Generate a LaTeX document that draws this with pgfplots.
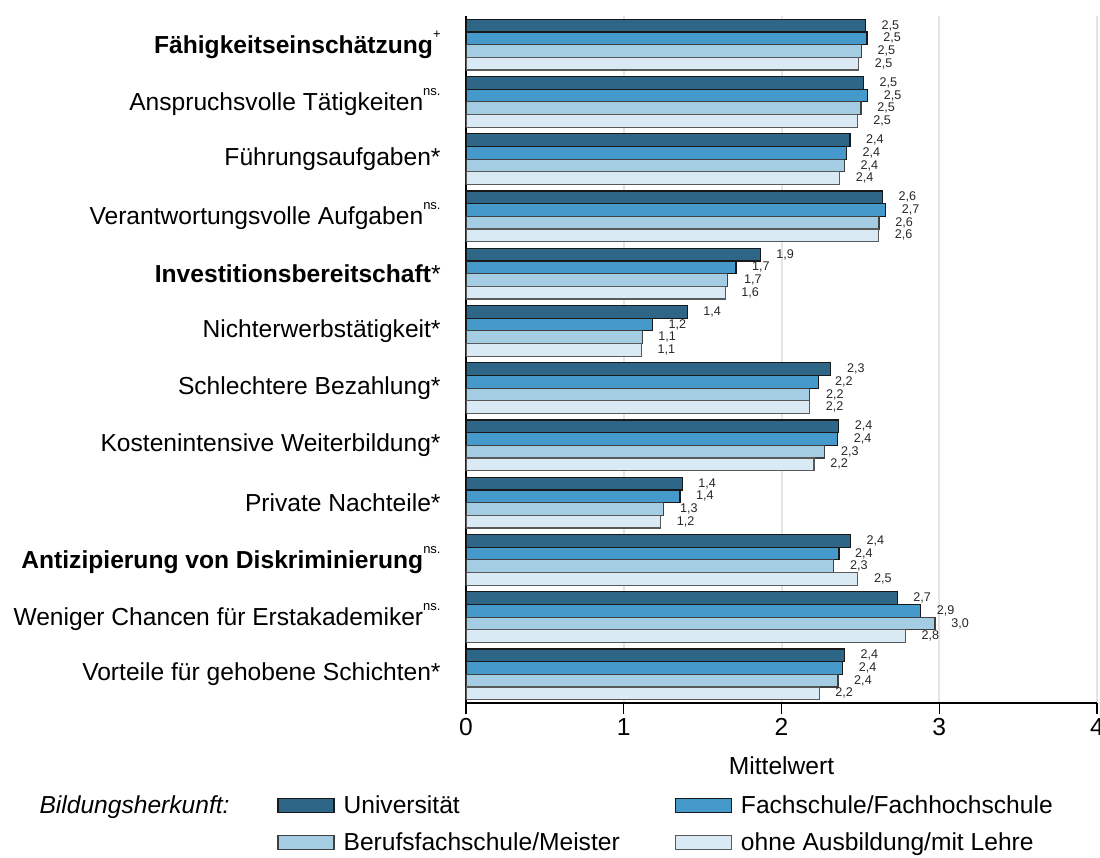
\documentclass[border=0pt]{standalone}
\usepackage{fontspec}
\setmainfont{Liberation Sans}
\usepackage{pgfplots}
\pgfplotsset{compat=1.18}

\definecolor{cUni}{RGB}{46,102,136}
\definecolor{cFach}{RGB}{69,153,203}
\definecolor{cBeruf}{RGB}{164,205,228}
\definecolor{cOhne}{RGB}{218,234,244}

\newcommand{\lab}{\fontsize{12.3}{14}\selectfont}
\newcommand{\sig}[1]{\raisebox{0.62em}{\fontsize{6.5}{7}\selectfont #1}}

\begin{document}
\begin{tikzpicture}
\begin{axis}[
    scale only axis,
    width=315.5pt, height=343.5pt,
    xbar, bar width=6.33pt,
    xmin=0, xmax=4, ymin=0.5, ymax=12.5,
    axis x line*=bottom, axis y line*=left,
    xtick={0,1,2,3,4}, ytick={1,...,12},
    yticklabels={
      {Vorteile für gehobene Schichten*},
      {Weniger Chancen für Erstakademiker\sig{ns.}},
      {\textbf{Antizipierung von Diskriminierung}\sig{ns.}},
      {Private Nachteile*},
      {Kostenintensive Weiterbildung*},
      {Schlechtere Bezahlung*},
      {Nichterwerbstätigkeit*},
      {\textbf{Investitionsbereitschaft}*},
      {Verantwortungsvolle Aufgaben\sig{ns.}},
      {Führungsaufgaben*},
      {Anspruchsvolle Tätigkeiten\sig{ns.}},
      {\textbf{Fähigkeitseinschätzung}\sig{+}}},
    ytick style={draw=none},
    xtick align=outside, major tick length=5.5pt,
    xtick style={black, line width=0.6pt},
    axis line style={black, line width=0.6pt},
    tick label style={font=\lab},
    yticklabel style={anchor=east, inner sep=0pt, xshift=-7pt},
    xticklabel style={inner sep=2pt},
    /pgf/number format/assume math mode=true,
    xmajorgrids, grid style={gray!20, line width=1pt},
    xlabel={Mittelwert},
    xlabel style={font=\lab, at={(axis description cs:0.5,0)}, anchor=center, yshift=-31.5pt},
    nodes near coords,
    point meta=x,
    nodes near coords style={font=\fontsize{6.3}{7}\selectfont, anchor=west, xshift=4.5pt, text=black!85,
      /pgf/number format/.cd, fixed, fixed zerofill, precision=1, use comma},
    every axis plot/.append style={line width=0.6pt},
    legend columns=2,
    legend cell align=left,
    legend style={draw=none, fill=none, font=\lab, inner sep=0pt,
      at={(0,0)}, anchor=north west, xshift=-94.5pt, yshift=-45pt,
      row sep=6pt,
      nodes={inner sep=1pt},
      /tikz/every odd column/.append style={column sep=3.5pt},
      /tikz/every even column/.append style={column sep=26.5pt}},
    legend image code/.code={\draw[#1] (0pt,-3.5pt) rectangle (28pt,3.5pt);},
]
\addplot[draw=black!90, fill=cUni, bar shift=9.5pt] coordinates {
 (2.531,12) (2.519,11) (2.434,10) (2.639,9) (1.865,8) (1.402,7)
 (2.313,6) (2.362,5) (1.370,4) (2.436,3) (2.733,2) (2.398,1)};
\addlegendentry{Universität}
\addplot[draw=black!90, fill=cFach, bar shift=3.17pt] coordinates {
 (2.542,12) (2.546,11) (2.411,10) (2.660,9) (1.711,8) (1.181,7)
 (2.237,6) (2.355,5) (1.356,4) (2.364,3) (2.882,2) (2.387,1)};
\addlegendentry{Fachschule/Fachhochschule}
\addplot[draw=black!75, fill=cBeruf, bar shift=-3.17pt] coordinates {
 (2.506,12) (2.504,11) (2.398,10) (2.618,9) (1.660,8) (1.117,7)
 (2.180,6) (2.275,5) (1.254,4) (2.332,3) (2.973,2) (2.358,1)};
\addlegendentry{Berufsfachschule/Meister}
\addplot[draw=black!65, fill=cOhne, bar shift=-9.5pt] coordinates {
 (2.489,12) (2.480,11) (2.368,10) (2.616,9) (1.643,8) (1.111,7)
 (2.178,6) (2.206,5) (1.234,4) (2.484,3) (2.785,2) (2.239,1)};
\addlegendentry{ohne Ausbildung/mit Lehre}
\end{axis}
\node[anchor=east, font=\lab\itshape, inner sep=0pt] at ([shift={(-118pt,-52pt)}]current axis.south west) {Bildungsherkunft:};
\pgfresetboundingbox
\path ([shift={(-233pt,-77pt)}]current axis.south west) rectangle ([shift={(1.5pt,8pt)}]current axis.north east);
\end{tikzpicture}
\end{document}
